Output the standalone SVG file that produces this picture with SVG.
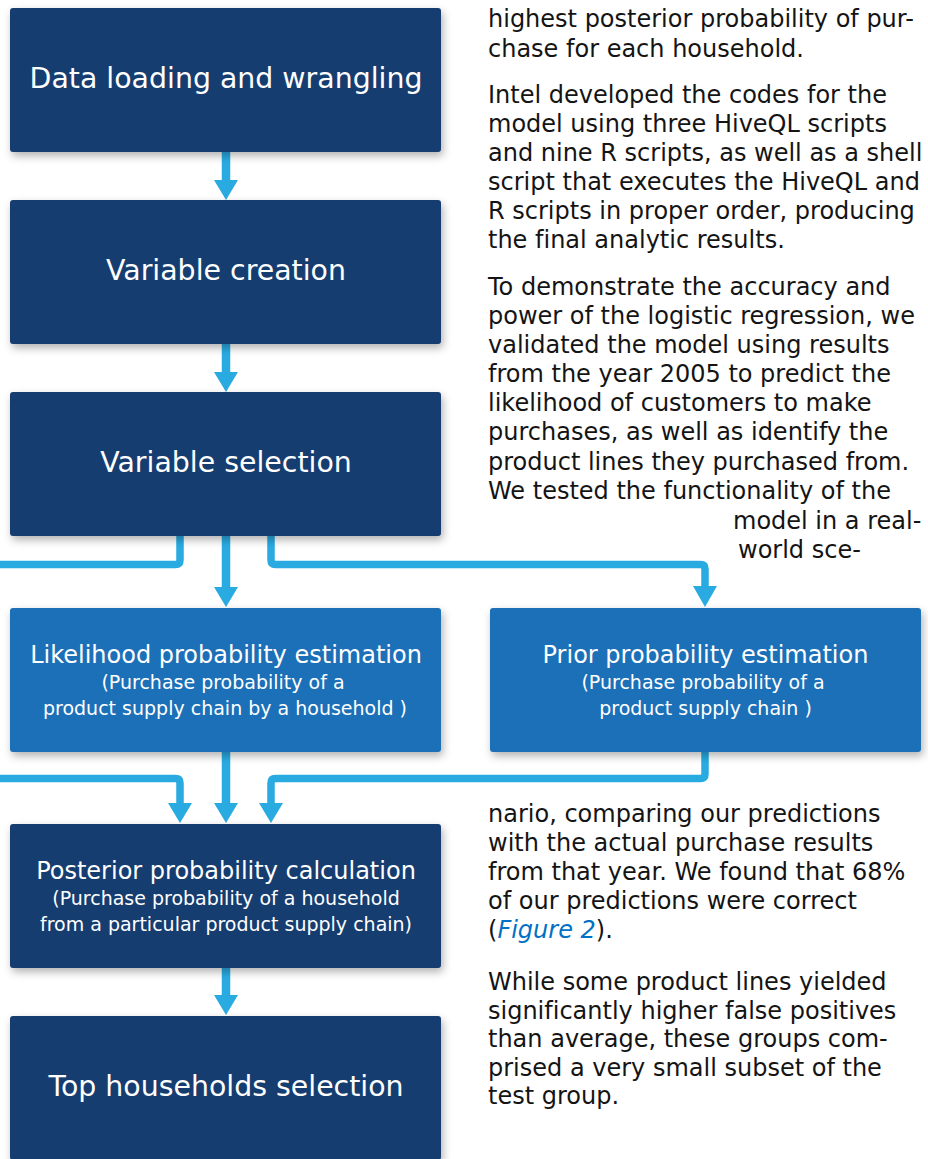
<svg xmlns="http://www.w3.org/2000/svg" width="928" height="1159" viewBox="0 0 928 1159">
<defs>
<filter id="sh" x="-10%" y="-10%" width="125%" height="135%">
<feDropShadow dx="2" dy="4" stdDeviation="4" flood-color="#000" flood-opacity="0.3"/>
</filter>
<style>
text{font-family:"DejaVu Sans","Noto Sans","Liberation Sans",sans-serif;font-variant-ligatures:none}
.dark{fill:#163d6f;filter:url(#sh)}
.mid{fill:#1c70b8;filter:url(#sh)}
.t1{font-size:28.4px;fill:#fff;text-anchor:middle}
.t2{font-size:24px;fill:#fff;text-anchor:middle}
.t3{font-size:19px;fill:#fff;text-anchor:middle}
.body{font-size:24px;fill:#141414}
.ln{fill:none;stroke:#29abe2;stroke-width:7.5;stroke-linejoin:round}
.st{fill:none;stroke:#29abe2;stroke-width:8.5}
.ah{fill:#29abe2}
.lk{fill:#0071c5;font-style:italic}
</style>
</defs>
<rect width="928" height="1159" fill="#fff"/>
<g id="connectors">
<path class="st" d="M226,152 V182"/>
<polygon class="ah" points="214,180 238,180 226,200"/>
<path class="st" d="M226,344 V374"/>
<polygon class="ah" points="214,372 238,372 226,392"/>
<path class="st" d="M226,536 V590"/>
<polygon class="ah" points="214,587 238,587 226,607"/>
<path class="ln" d="M180,536 V560 Q180,564.5 175.5,564.5 H-5"/>
<path class="ln" d="M271,536 V560 Q271,564.5 275.5,564.5 H700.5 Q705,564.5 705,569 V590"/>
<polygon class="ah" points="693,586 717,586 705,607"/>
<path class="st" d="M226,752 V806"/>
<polygon class="ah" points="214,803 238,803 226,823"/>
<path class="ln" d="M-5,778.5 H175.5 Q180,778.5 180,783 V806"/>
<polygon class="ah" points="168,803 192,803 180,823"/>
<path class="ln" d="M705,752 V774 Q705,778.5 700.5,778.5 H275.5 Q271,778.5 271,783 V806"/>
<polygon class="ah" points="259,803 283,803 271,823"/>
<path class="st" d="M226,968 V998"/>
<polygon class="ah" points="214,995 238,995 226,1015"/>
</g>
<g id="n1"><rect class="dark" x="10" y="8" width="431" height="144" rx="3"/><text class="t1" x="226" y="88">Data loading and wrangling</text></g>
<g id="n2"><rect class="dark" x="10" y="200" width="431" height="144" rx="3"/><text class="t1" x="226" y="280">Variable creation</text></g>
<g id="n3"><rect class="dark" x="10" y="392" width="431" height="144" rx="3"/><text class="t1" x="226" y="472">Variable selection</text></g>
<g id="n4"><rect class="mid" x="10" y="608" width="431" height="144" rx="3"/>
<text class="t2" x="226" y="663">Likelihood probability estimation</text>
<text class="t3" x="223" y="689">(Purchase probability of a</text>
<text class="t3" x="225" y="715">product supply chain by a household )</text></g>
<g id="n5"><rect class="mid" x="490" y="608" width="431" height="144" rx="3"/>
<text class="t2" x="705.5" y="663">Prior probability estimation</text>
<text class="t3" x="703" y="689">(Purchase probability of a</text>
<text class="t3" x="705.5" y="715">product supply chain )</text></g>
<g id="n6"><rect class="dark" x="10" y="824" width="431" height="144" rx="3"/>
<text class="t2" x="226" y="879">Posterior probability calculation</text>
<text class="t3" x="226" y="905">(Purchase probability of a household</text>
<text class="t3" x="226" y="931">from a particular product supply chain)</text></g>
<g id="n7"><rect class="dark" x="10" y="1016" width="431" height="144" rx="3"/><text class="t1" x="226" y="1096">Top households selection</text></g>
<g id="bodytext" class="body">
<text x="488" y="27">highest posterior probability of pur-</text>
<text x="488" y="56.5">chase for each household.</text>
<text x="488" y="103">Intel developed the codes for the</text>
<text x="488" y="132">model using three HiveQL scripts</text>
<text x="488" y="161">and nine R scripts, as well as a shell</text>
<text x="488" y="190">script that executes the HiveQL and</text>
<text x="488" y="219">R scripts in proper order, producing</text>
<text x="488" y="248">the final analytic results.</text>
<text x="488" y="295">To demonstrate the accuracy and</text>
<text x="488" y="324">power of the logistic regression, we</text>
<text x="488" y="353">validated the model using results</text>
<text x="488" y="382">from the year 2005 to predict the</text>
<text x="488" y="411">likelihood of customers to make</text>
<text x="488" y="440">purchases, as well as identify the</text>
<text x="488" y="470">product lines they purchased from.</text>
<text x="488" y="499">We tested the functionality of the</text>
<text x="733" y="529">model in a real-</text>
<text x="738" y="558">world sce-</text>
<text x="488" y="822">nario, comparing our predictions</text>
<text x="488" y="851">with the actual purchase results</text>
<text x="488" y="880">from that year. We found that 68%</text>
<text x="488" y="909">of our predictions were correct</text>
<text x="488" y="938">(<tspan class="lk">Figure 2</tspan>).</text>
<text x="488" y="990">While some product lines yielded</text>
<text x="488" y="1018.5">significantly higher false positives</text>
<text x="488" y="1047">than average, these groups com-</text>
<text x="488" y="1075.5">prised a very small subset of the</text>
<text x="488" y="1104">test group.</text>
</g>
</svg>
